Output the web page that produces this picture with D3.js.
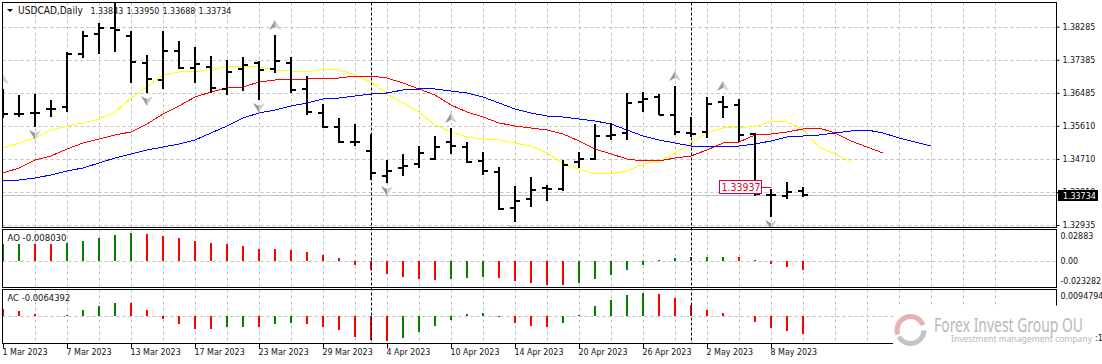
<!DOCTYPE html>
<html>
<head>
<meta charset="utf-8">
<script src="https://cdn.jsdelivr.net/npm/d3@7"></script>
<style>
html, body { margin: 0; padding: 0; background: #fff; }
svg { display: block; }
text { font-family: "DejaVu Sans Condensed", "Noto Sans", sans-serif; font-size: 8.8px; fill: #111; }
</style>
</head>
<body>
<script>
'use strict';

// daily bars, 1 Mar 2023 to 10 May 2023
var barOpen = [1.35956,1.35929,1.35956,1.36064,1.36118,1.37548,1.38087,1.38249,1.38033,1.37305,1.36846,1.37629,1.37170,1.37197,1.36604,1.37143,1.37305,1.37143,1.37305,1.36604,1.35956,1.35579,1.35174,1.34931,1.34257,1.34473,1.34581,1.34716,1.35174,1.35039,1.34662,1.34365,1.33394,1.33637,1.33933,1.33906,1.34635,1.34716,1.35336,1.35417,1.36253,1.36388,1.35902,1.35417,1.35444,1.36253,1.36172,1.35390,1.33745,1.33718,1.33843];
var barHigh = [1.36604,1.36442,1.36469,1.36307,1.37602,1.38168,1.38384,1.38923,1.38168,1.37521,1.38168,1.37898,1.37736,1.37494,1.37386,1.37467,1.37359,1.38060,1.37467,1.36954,1.36199,1.35822,1.35660,1.35390,1.34689,1.34850,1.35066,1.35336,1.35552,1.35174,1.34904,1.34500,1.33987,1.34230,1.34014,1.34689,1.34904,1.35660,1.35687,1.36496,1.36523,1.36469,1.36685,1.35848,1.36388,1.36415,1.36334,1.35417,1.33906,1.34095,1.33950];
var barLow = [1.35822,1.35848,1.35579,1.35848,1.35983,1.37440,1.37548,1.37602,1.36765,1.36496,1.36604,1.37143,1.36765,1.36496,1.36442,1.36550,1.36307,1.37035,1.36496,1.35902,1.35552,1.35147,1.35066,1.34149,1.34068,1.34257,1.34473,1.34689,1.34850,1.34608,1.34284,1.33340,1.33017,1.33421,1.33583,1.33853,1.34473,1.34689,1.35228,1.35228,1.35983,1.35902,1.35363,1.35309,1.35282,1.35822,1.35174,1.33718,1.33151,1.33637,1.33688];
var barClose = [1.35929,1.35929,1.35956,1.36064,1.37548,1.38033,1.38249,1.38195,1.37332,1.36873,1.37629,1.37170,1.37278,1.36631,1.37062,1.37251,1.37116,1.37359,1.36577,1.35983,1.35579,1.35174,1.35174,1.34338,1.34392,1.34527,1.34877,1.35039,1.35066,1.34635,1.34392,1.33367,1.33583,1.33880,1.33906,1.34554,1.34716,1.35336,1.35363,1.36226,1.36334,1.35902,1.35444,1.35390,1.36199,1.36118,1.35363,1.33772,1.33745,1.33826,1.33734];

// alligator lines, they run on past the last bar
var lips = [1.35012,1.35147,1.35282,1.35498,1.35606,1.35687,1.35795,1.35983,1.36361,1.36658,1.36981,1.37062,1.37062,1.37143,1.37197,1.37224,1.37197,1.37116,1.37089,1.37062,1.37143,1.37116,1.36981,1.36792,1.36469,1.36226,1.35983,1.35633,1.35444,1.35309,1.35255,1.35228,1.35147,1.35066,1.34877,1.34608,1.34446,1.34311,1.34311,1.34392,1.34581,1.34662,1.34877,1.35147,1.35417,1.35552,1.35552,1.35606,1.35714,1.35714,1.35525,1.35039,1.34850,1.34635];
var teeth = [1.34338,1.34473,1.34689,1.34797,1.34985,1.35147,1.35255,1.35363,1.35444,1.35660,1.35929,1.36145,1.36388,1.36523,1.36631,1.36658,1.36792,1.36846,1.36873,1.36873,1.36900,1.36900,1.36954,1.36954,1.36900,1.36765,1.36604,1.36442,1.36172,1.35983,1.35848,1.35687,1.35606,1.35552,1.35498,1.35390,1.35201,1.34985,1.34850,1.34716,1.34662,1.34662,1.34743,1.34797,1.34959,1.35147,1.35174,1.35363,1.35390,1.35444,1.35525,1.35552,1.35417,1.35201,1.35039,1.34877];
var jaw = [1.34122,1.34149,1.34203,1.34284,1.34392,1.34473,1.34608,1.34743,1.34850,1.34959,1.35039,1.35120,1.35228,1.35417,1.35606,1.35822,1.35956,1.36037,1.36145,1.36226,1.36334,1.36361,1.36415,1.36469,1.36496,1.36577,1.36604,1.36604,1.36550,1.36496,1.36388,1.36226,1.36064,1.35956,1.35875,1.35848,1.35795,1.35741,1.35660,1.35498,1.35336,1.35228,1.35147,1.35066,1.35039,1.35039,1.35066,1.35120,1.35201,1.35309,1.35336,1.35363,1.35417,1.35471,1.35498,1.35417,1.35282,1.35174,1.35066];

// bar indexes that carry a fractal arrow
var fractalUp = [0, 7, 17, 28, 42, 45];
var fractalDown = [2, 9, 16, 24, 32, 48];

// oscillators, green when the value rises from the one before
var aoBefore = 0.0155;
var aoValues = [0.0156,0.0158,0.0157,0.0156,0.0166,0.0184,0.0211,0.0239,0.0257,0.0248,0.0230,0.0211,0.0184,0.0166,0.0157,0.0139,0.0112,0.0111,0.0103,0.0085,0.0057,0.0030,-0.0033,-0.0079,-0.0115,-0.0142,-0.0160,-0.0169,-0.0160,-0.0151,-0.0142,-0.0151,-0.0178,-0.0196,-0.0214,-0.0215,-0.0196,-0.0160,-0.0124,-0.0079,-0.0033,0.0010,0.0030,0.0039,0.0040,0.0041,0.0039,0.0012,-0.0024,-0.0051,-0.00803];
var acBefore = 0.0030;
var acValues = [0.0026,0.0019,0.0008,0.0002,0.0005,0.0022,0.0037,0.0047,0.0046,0.0022,-0.0009,-0.0027,-0.0045,-0.0046,-0.0038,-0.0037,-0.0038,-0.0027,-0.0024,-0.0027,-0.0038,-0.0048,-0.0073,-0.0084,-0.0087,-0.0077,-0.0055,-0.0034,-0.0013,0.0008,0.0012,-0.0002,-0.0024,-0.0034,-0.0038,-0.0024,0.0005,0.0037,0.0058,0.0076,0.0083,0.0079,0.0065,0.0040,0.0022,0.0012,0.0002,-0.0020,-0.0041,-0.0052,-0.0064392];

var priceTicks = [1.38285, 1.37393, 1.36501, 1.35610, 1.34717, 1.33825, 1.32935];
var priceLabels = ['1.38285', '1.37385', '1.36485', '1.35610', '1.34710', '1.33810', '1.32935'];
var lastPrice = 1.33734;
var highlightPrice = 1.33937;

var dateIndex = [0, 4, 8, 12, 16, 20, 24, 28, 32, 36, 40, 44, 48];
var dateLabels = ['1 Mar 2023', '7 Mar 2023', '13 Mar 2023', '17 Mar 2023', '23 Mar 2023', '29 Mar 2023', '4 Apr 2023', '10 Apr 2023', '14 Apr 2023', '20 Apr 2023', '26 Apr 2023', '2 May 2023', '8 May 2023'];
var periodLines = [23, 43];

var width = 1102;
var height = 364;
var left = 2.5;
var right = 1056.5;
var mainTop = 2.5;
var mainBottom = 227.5;
var aoTop = 229.5;
var aoBottom = 287.5;
var acTop = 289.5;
var acBottom = 343.5;

var svg = d3.select('body').append('svg').attr('width', width).attr('height', height);

// index -> pixel, one bar every 16px
var x = d3.scaleLinear().domain([0, 50]).range([3, 803]);
var y = d3.scaleLinear().domain([1.39004, 1.32935]).range([0, 225]);
var yAo = d3.scaleLinear().domain([0.0288, -0.0233]).range([229.5, 287]);
var yAc = d3.scaleLinear().domain([0.00948, -0.00945]).range([289.5, 343]);

svg.append('defs').append('clipPath').attr('id', 'mainClip').append('rect')
  .attr('x', left).attr('y', mainTop).attr('width', right - left).attr('height', mainBottom - mainTop);

var gridIndex = d3.range(2, 64, 2);

function drawVerticalGrid(top, bottom) {
  svg.append('g').selectAll('line').data(gridIndex).enter().append('line')
    .attr('x1', function (d) { return x(d) + 0.5; })
    .attr('x2', function (d) { return x(d) + 0.5; })
    .attr('y1', top).attr('y2', bottom)
    .attr('stroke', '#c0c0c0').attr('stroke-dasharray', '3,3');
}

drawVerticalGrid(mainTop, mainBottom);
drawVerticalGrid(aoTop, aoBottom);
drawVerticalGrid(acTop, acBottom);

svg.append('g').selectAll('line').data(priceTicks).enter().append('line')
  .attr('x1', left).attr('x2', right)
  .attr('y1', function (d) { return Math.round(y(d)) + 0.5; })
  .attr('y2', function (d) { return Math.round(y(d)) + 0.5; })
  .attr('stroke', '#c0c0c0').attr('stroke-dasharray', '3,3');

// solid line at the last close
svg.append('line').attr('x1', left).attr('x2', right)
  .attr('y1', Math.round(y(lastPrice)) + 0.5).attr('y2', Math.round(y(lastPrice)) + 0.5)
  .attr('stroke', '#c0c0c0');

[yAo, yAc].forEach(function (scale) {
  svg.append('line').attr('x1', left).attr('x2', right)
    .attr('y1', Math.round(scale(0)) + 0.5).attr('y2', Math.round(scale(0)) + 0.5)
    .attr('stroke', '#c0c0c0').attr('stroke-dasharray', '3,3');
});

var plot = svg.append('g').attr('clip-path', 'url(#mainClip)');

function drawLine(values, color) {
  var line = d3.line()
    .x(function (d, i) { return x(i); })
    .y(function (d) { return y(d); });
  plot.append('path').datum(values).attr('d', line)
    .attr('fill', 'none').attr('stroke', color).attr('stroke-width', 1)
    .attr('shape-rendering', 'crispEdges');
}

drawLine(lips, '#ffff00');
drawLine(teeth, '#ff0000');
drawLine(jaw, '#0000ff');

// fractal arrows, two shades for the lit and shaded side
function drawFractals(indexes, up) {
  var dir = up ? 1 : -1;
  var groups = plot.append('g').selectAll('g').data(indexes).enter().append('g')
    .attr('transform', function (d) {
      var tip = up ? y(barHigh[d]) - 15 : y(barLow[d]) + 13;
      return 'translate(' + x(d) + ',' + tip + ')';
    });
  groups.append('path')
    .attr('d', 'M0,0 L-6,' + (10 * dir) + ' L0,' + (7 * dir) + ' Z')
    .attr('fill', '#9a9a9a');
  groups.append('path')
    .attr('d', 'M0,0 L6,' + (10 * dir) + ' L0,' + (7 * dir) + ' Z')
    .attr('fill', '#c9d3de');
}

drawFractals(fractalUp, true);
drawFractals(fractalDown, false);

// price label box with its leader
var boxY = Math.round(y(highlightPrice));
var priceBox = svg.append('g');
priceBox.append('line').attr('x1', 762).attr('x2', 771.5)
  .attr('y1', boxY - 0.5).attr('y2', boxY - 0.5).attr('stroke', '#e6002e');
priceBox.append('rect').attr('x', 719.5).attr('y', boxY - 7.5).attr('width', 42).attr('height', 13)
  .attr('fill', '#fff').attr('stroke', '#e6002e');
priceBox.append('text').attr('x', 721.5).attr('y', boxY + 3).style('fill', '#e6002e').style('font-size', '10.5px')
  .text(highlightPrice.toFixed(5));

// OHLC bars
var barIndex = d3.range(barOpen.length);
var bars = plot.append('g').attr('stroke', '#000').attr('stroke-width', 2).attr('shape-rendering', 'crispEdges')
  .selectAll('g').data(barIndex).enter().append('g');
bars.append('line')
  .attr('x1', function (d) { return x(d); }).attr('x2', function (d) { return x(d); })
  .attr('y1', function (d) { return Math.round(y(barHigh[d])); })
  .attr('y2', function (d) { return Math.round(y(barLow[d])); });
bars.append('line')
  .attr('x1', function (d) { return x(d) - 5; }).attr('x2', function (d) { return x(d); })
  .attr('y1', function (d) { return Math.round(y(barOpen[d])); })
  .attr('y2', function (d) { return Math.round(y(barOpen[d])); });
bars.append('line')
  .attr('x1', function (d) { return x(d); }).attr('x2', function (d) { return x(d) + 5; })
  .attr('y1', function (d) { return Math.round(y(barClose[d])); })
  .attr('y2', function (d) { return Math.round(y(barClose[d])); });

function drawHistogram(values, before, scale) {
  svg.append('g').selectAll('line').data(values).enter().append('line')
    .attr('x1', function (d, i) { return x(i); })
    .attr('x2', function (d, i) { return x(i); })
    .attr('y1', Math.round(scale(0)))
    .attr('y2', function (d) { return Math.round(scale(d)); })
    .attr('stroke', function (d, i) {
      var prev = i == 0 ? before : values[i - 1];
      return d >= prev ? '#008000' : '#ff0000';
    })
    .attr('stroke-width', 2).attr('shape-rendering', 'crispEdges');
}

drawHistogram(aoValues, aoBefore, yAo);
drawHistogram(acValues, acBefore, yAc);

// black dashed period separators go over everything
svg.append('g').selectAll('line').data(periodLines).enter().append('line')
  .attr('x1', function (d) { return x(d) + 0.5; })
  .attr('x2', function (d) { return x(d) + 0.5; })
  .attr('y1', mainTop).attr('y2', acBottom)
  .attr('stroke', '#000').attr('stroke-dasharray', '3,2');

// pane borders
var frames = [[mainTop, mainBottom], [aoTop, aoBottom], [acTop, acBottom]];
svg.append('g').selectAll('rect').data(frames).enter().append('rect')
  .attr('x', left).attr('width', right - left)
  .attr('y', function (d) { return d[0]; })
  .attr('height', function (d) { return d[1] - d[0]; })
  .attr('fill', 'none').attr('stroke', '#000');

// axes
var priceAxis = d3.axisRight(y).tickValues(priceTicks).tickSize(3).tickPadding(3)
  .tickFormat(function (d, i) { return priceLabels[i]; });
var priceG = svg.append('g').attr('transform', 'translate(' + right + ',0)').call(priceAxis);
priceG.select('.domain').remove();

var dateAxis = d3.axisBottom(x).tickValues(dateIndex).tickSize(5)
  .tickFormat(function (d, i) { return dateLabels[i]; });
var dateG = svg.append('g').attr('transform', 'translate(0,' + acBottom + ')').call(dateAxis);
dateG.select('.domain').remove();
dateG.selectAll('text').attr('text-anchor', 'start').attr('x', -1).attr('y', 5).attr('dy', '0.71em');

svg.selectAll('.tick text').attr('font-family', null).attr('font-size', null);

// last close flag
var lastY = Math.round(y(lastPrice));
svg.append('rect').attr('x', 1058).attr('y', lastY - 5).attr('width', 40).attr('height', 11).attr('fill', '#000');
svg.append('text').attr('x', 1063).attr('y', lastY + 4).style('fill', '#fff').text(lastPrice.toFixed(5));

// oscillator scale labels sit inside the pane
function paneLabel(text, yPos) {
  svg.append('text').attr('x', right + 4).attr('y', yPos).text(text);
}
paneLabel('0.02883', 239);
paneLabel('0.00', 264);
paneLabel('-0.023282', 284);
paneLabel('0.0094794', 299);

// chart title and indicator captions
svg.append('path').attr('d', 'M7,9 L13,9 L10,12 Z').attr('fill', '#000');
svg.append('text').attr('x', 18).attr('y', 14).style('font-size', '10.1px').text('USDCAD,Daily');
svg.append('text').attr('x', 90.5).attr('y', 14).attr('word-spacing', 0.8)
  .text([barOpen[50], barHigh[50], barLow[50], barClose[50]].map(function (d) { return d.toFixed(5); }).join(' '));
svg.append('text').attr('x', 7.5).attr('y', 241).style('font-size', '9.5px').text('AO ' + aoValues[50].toFixed(6));
svg.append('text').attr('x', 7.5).attr('y', 301).style('font-size', '9.4px').text('AC ' + acValues[50].toFixed(7));

// watermark block sits on top of the lower right corner
var mark = svg.append('g');
mark.append('rect').attr('x', 893).attr('y', 305.5).attr('width', 209).attr('height', 59).attr('fill', '#fff');
var arc = d3.arc().innerRadius(11).outerRadius(16);
mark.append('path').attr('transform', 'translate(910.5,330)')
  .attr('d', arc({ startAngle: -1.9, endAngle: 1.2 })).attr('fill', '#e6b3b3');
mark.append('path').attr('transform', 'translate(910.5,330)')
  .attr('d', arc({ startAngle: 1.6, endAngle: 4.2 })).attr('fill', '#c4c4c4');
mark.append('text').attr('x', 934).attr('y', 332).attr('textLength', 149).attr('lengthAdjust', 'spacingAndGlyphs')
  .style('font-family', '"Noto Sans", sans-serif').style('font-size', '20px').style('fill', '#b8b8b8').text('Forex Invest Group OU');
mark.append('text').attr('x', 951).attr('y', 342).attr('textLength', 141).attr('lengthAdjust', 'spacingAndGlyphs')
  .style('font-family', '"Noto Sans", sans-serif').style('font-size', '9px').style('fill', '#b8b8b8').text('Investment management company');
mark.append('text').attr('x', 1095).attr('y', 341).text(':15');
</script>
</body>
</html>
